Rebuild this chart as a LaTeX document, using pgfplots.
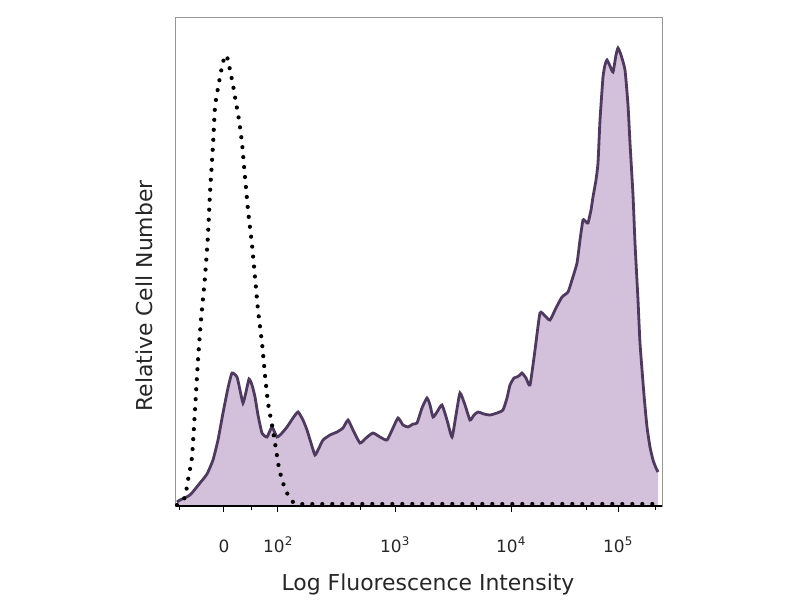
\documentclass[border=0pt]{standalone}
\usepackage{pgfplots}
\usepackage{pgfplotstable}
\pgfplotsset{compat=1.18}
\usepackage{fontspec}
\setmainfont{DejaVu Sans}
\definecolor{fillpurple}{RGB}{211,192,218}
\definecolor{linepurple}{RGB}{78,58,94}
\definecolor{framegray}{RGB}{150,150,150}

% x = pixel column, y = height above baseline (pixel row 506)
\pgfplotstableread{
x y
177 4
180 6
190 11
200 23
207 32
213 46
218 66
223 93
228 118
232 133
237 129
240 116
243 103
246 114
249 127
252 121
255 109
258 91
262 73
267 69
272 79
277 69
282 73
287 79
293 88
298 94
303 86
307 76
311 63
315 51
319 58
323 66
330 71
337 74
343 78
348 86
353 76
360 63
366 68
373 73
380 69
387 66
393 78
398 88
403 81
408 79
413 82
417 83
422 98
427 108
430 101
433 89
437 94
442 101
447 86
452 69
456 91
460 113
465 101
470 86
474 91
478 94
484 92
490 91
497 93
503 96
507 108
510 121
514 128
517 129
520 131
522 133
526 128
530 121
535 156
540 193
545 190
550 186
556 198
562 209
568 214
572 226
577 243
580 266
583 286
586 284
588 283
591 296
593 309
596 326
598 343
600 386
603 429
605 441
607 446
610 440
613 434
616 451
618 458
621 451
625 436
628 401
630 363
633 311
635 263
638 206
640 163
644 111
647 79
650 59
653 46
656 38
658 34
}\stained

\pgfplotstableread{
x y
177 1
180 3
185 9
188 26
192 49
195 96
198 146
201 186
205 229
208 271
210 313
213 361
215 399
218 418
220 429
223 444
226 451
228 446
230 436
233 421
235 409
239 386
242 363
245 329
248 296
252 261
255 229
258 196
262 163
265 131
268 103
272 81
275 63
279 38
283 23
288 11
293 4
300 2
360 2
420 2
480 2
540 2
600 2
662 2
}\control

\begin{document}
\begin{tikzpicture}
\begin{axis}[
  scale only axis,
  width=486bp, height=488bp,
  xmin=176, xmax=662, ymin=0, ymax=488,
  clip=false,
  axis line style={framegray, line width=1bp},
  xtick={224,278,395,511,618},
  xticklabels={0,10\textsuperscript{2},10\textsuperscript{3},10\textsuperscript{4},10\textsuperscript{5}},
  minor xtick={180,252,360,476,586,655},
  ytick=\empty,
  xtick pos=left,
  tick align=outside,
  major tick length=6bp,
  minor tick length=4bp,
  tick style={black, line width=1bp},
  xticklabel style={font=\fontsize{17}{19}\selectfont, text=black!85, anchor=base, yshift=-40bp},
]
% invisible frame giving the picture the reference's proportions
\path (axis cs:0,-94) rectangle (axis cs:800,506);

\addplot[fill=fillpurple, draw=none] table[x=x,y=y] {\stained} \closedcycle;
\addplot[linepurple, line width=2.8bp, smooth, tension=0.3] table[x=x,y=y] {\stained};
\addplot[black, line width=2bp] coordinates {(176,0) (662,0)};
\addplot[black, line width=4.2bp, line cap=round, dash pattern=on 0pt off 10bp, smooth, tension=0.3] table[x=x,y=y] {\control};

\node[anchor=base, font=\fontsize{22}{26}\selectfont, text=black!85] at (axis cs:428,-84) {Log Fluorescence Intensity};
\node[anchor=base, rotate=90, font=\fontsize{22}{26}\selectfont, text=black!85] at (axis cs:153,210) {Relative Cell Number};
\end{axis}
\end{tikzpicture}
\end{document}
